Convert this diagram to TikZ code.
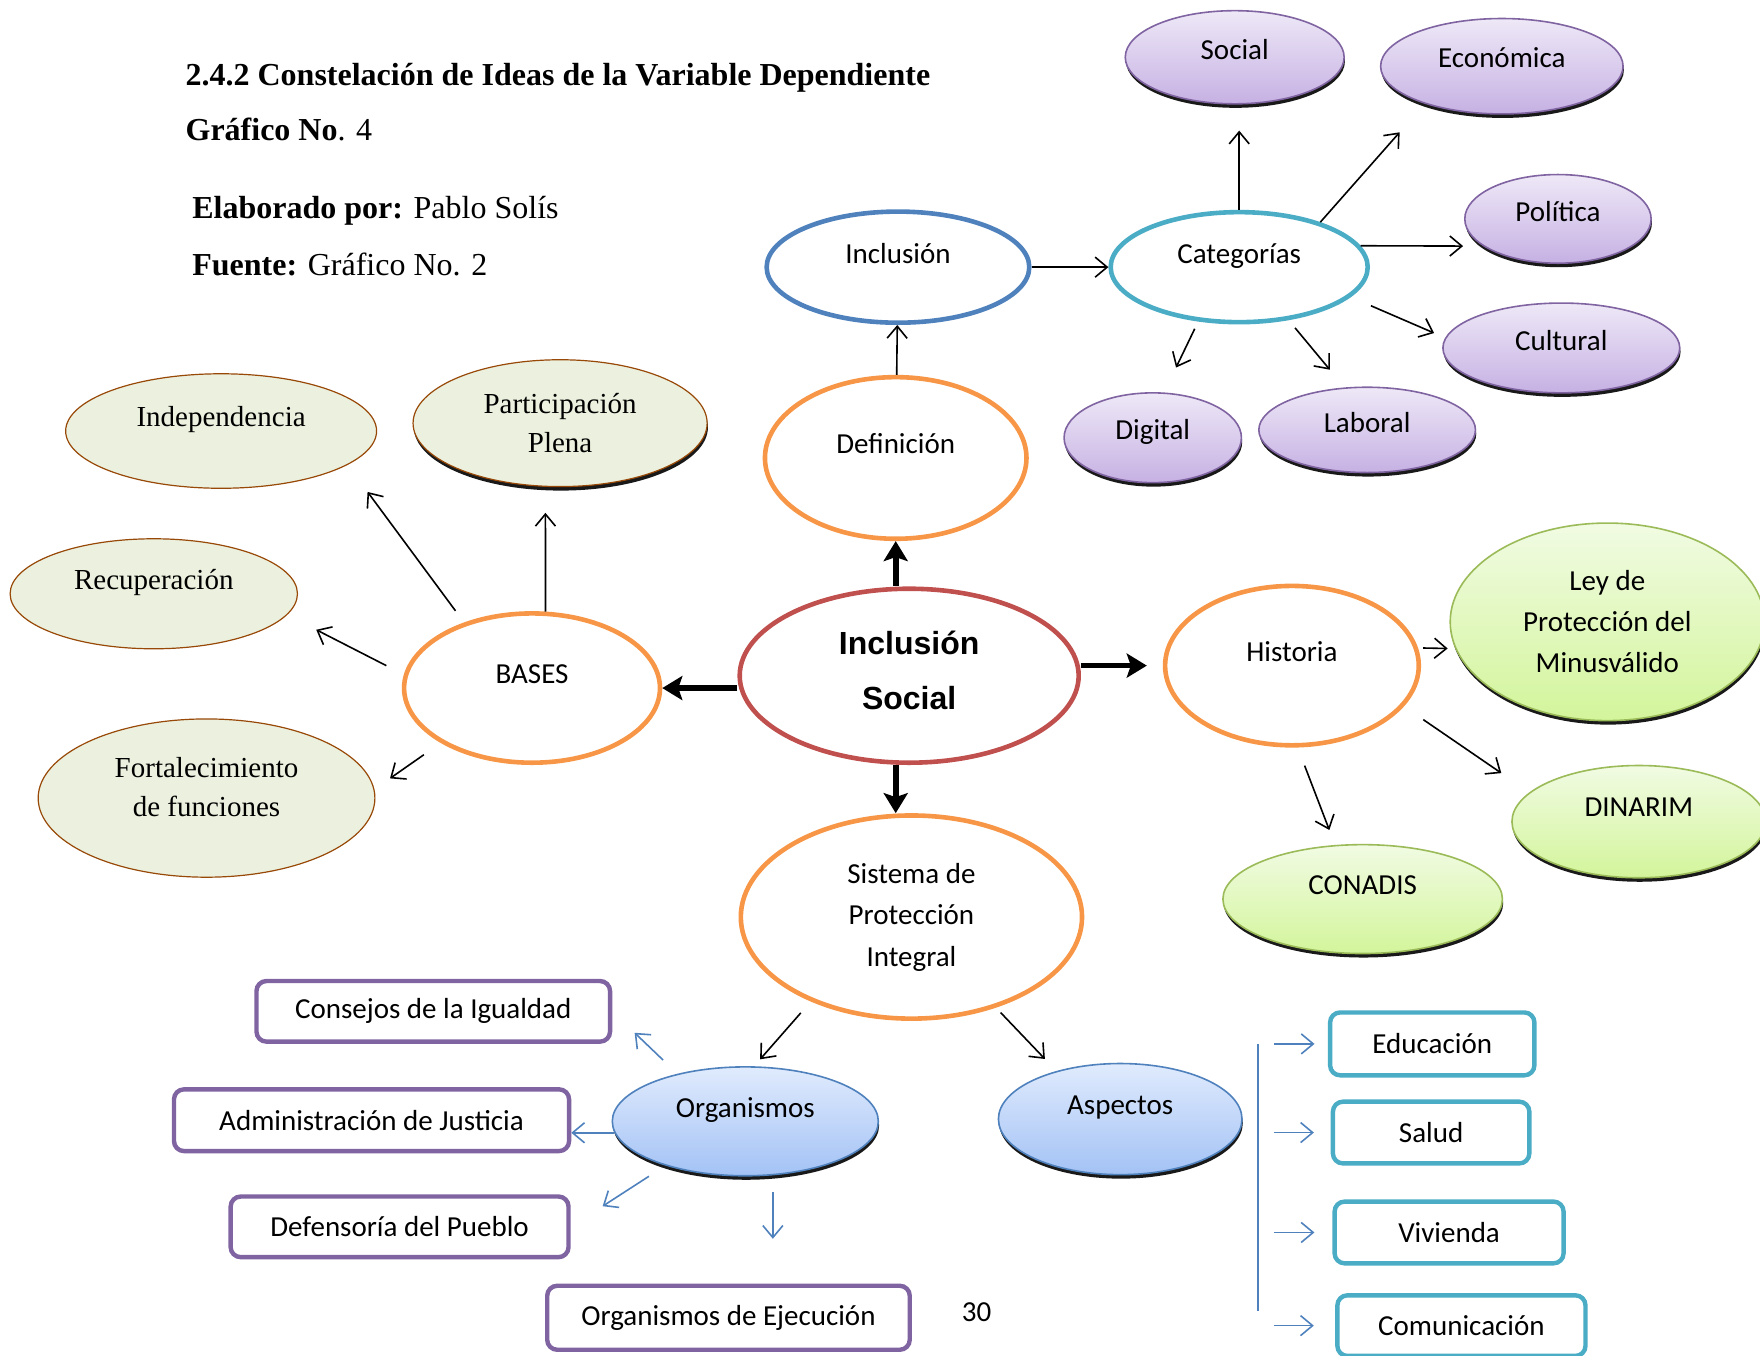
\documentclass[tikz,border=0pt]{standalone}
\usepackage{fontspec}
\setmainfont{Carlito}
\newfontfamily\timesf{Liberation Serif}
\newfontfamily\arialf{Liberation Sans}
\usetikzlibrary{shapes.geometric, arrows.meta, shadows}

\definecolor{naranja}{HTML}{F79646}
\definecolor{rojo}{HTML}{C0504D}
\definecolor{azulb}{HTML}{4F81BD}
\definecolor{cian}{HTML}{4BACC6}
\definecolor{lilab}{HTML}{8064A2}
\definecolor{lilaa}{HTML}{EEE8F7}
\definecolor{lilac}{HTML}{C6B1E3}
\definecolor{verdef}{HTML}{EBF1DE}
\definecolor{cafe}{HTML}{984807}
\definecolor{limab}{HTML}{9BBB59}
\definecolor{limaa}{HTML}{F1FBE3}
\definecolor{limac}{HTML}{D3F59B}
\definecolor{azula}{HTML}{E0EBFD}
\definecolor{azulc}{HTML}{A3C2F5}

\begin{document}
\begin{tikzpicture}[x=0.5612pt, y=-0.5612pt, font=\fontsize{14.5}{17.5}\selectfont,
  wh/.style 2 args = {minimum width=#1*0.5612pt, minimum height=#2*0.5612pt},
  sube/.style = {text height=10pt, text depth=#1}, sube/.default=14.5pt,
  texto/.style = {anchor=west, inner sep=0pt, font=\timesf\fontsize{16}{19}\selectfont},
  anillo/.style = {draw, ellipse, line width=2.3pt, inner sep=0pt},
  sombra/.style = {drop shadow={shadow xshift=0.4pt, shadow yshift=-2pt, fill=black, opacity=0.9}},
  lila/.style = {ellipse, draw=lilab, line width=0.8pt, top color=lilaa, bottom color=lilac, sombra, inner sep=0pt},
  verde/.style = {ellipse, draw=cafe, line width=0.6pt, fill=verdef, inner sep=0pt, font=\timesf\fontsize{14.5}{19.5}\selectfont},
  lima/.style = {ellipse, draw=limab, line width=0.8pt, top color=limaa, bottom color=limac, sombra, inner sep=0pt},
  azul/.style = {ellipse, draw=azulb, line width=0.8pt, top color=azula, bottom color=azulc, sombra, inner sep=0pt},
  caja/.style = {draw, fill=white, rounded corners=5pt, line width=2.2pt, inner sep=0pt},
  flecha/.style = {line width=0.8pt, -{Straight Barb[length=6pt, width=10pt]}},
  gruesa/.style = {line width=2.8pt, -{Stealth[length=10pt, width=12pt, inset=2pt]}},
  azulf/.style = {azulb, line width=0.8pt, -{Straight Barb[length=6pt, width=10pt]}}]
\useasboundingbox (0,0) rectangle (1568,1208);

\node[texto, font=\timesf\bfseries\fontsize{16}{19}\selectfont] (tit) at (165,69) {2.4.2 Constelación de Ideas de la Variable Dependiente};
\node[texto] (gra) at (165,115) {\textbf{Gráfico No}. 4};
\node[texto] (ela) at (171,188) {\textbf{Elaborado por:} Pablo Solís};
\node[texto] (fue) at (171,236) {\textbf{Fuente:} Gráfico No. 2};

\node[anillo, draw=rojo, wh={302}{155}, align=center, text depth=5.8pt, font=\arialf\bfseries\fontsize{16}{27.5}\selectfont] (cen) at (810,602) {Inclusión\\Social};
\node[anillo, draw=naranja, wh={233}{144}, sube] (def) at (798,408) {Definición};
\node[anillo, draw=azulb, wh={234}{99}, sube=13.5pt] (inc) at (800,238) {Inclusión};
\node[anillo, draw=cian, wh={229}{98}, sube=13.5pt] (cat) at (1104,238) {Categorías};
\node[anillo, draw=naranja, wh={228}{133}, sube] (bas) at (474,613) {BASES};
\node[anillo, draw=naranja, wh={226}{142}, sube] (his) at (1151,593) {Historia};
\node[anillo, draw=naranja, wh={304}{181}, align=center, font=\fontsize{14.5}{20.8}\selectfont] (sis) at (812,817) {Sistema de\\Protección\\Integral};

\node[lila, wh={195}{83}, sube=8pt] (soc) at (1100,51) {Social};
\node[lila, wh={216}{85}, sube=9pt] (eco) at (1338,59) {Económica};
\node[lila, wh={166}{79}, sube=7pt] (pol) at (1388,195) {Política};
\node[lila, wh={211}{80}, sube=7pt] (cul) at (1391,310) {Cultural};
\node[lila, wh={193}{76}, sube=7pt] (lab) at (1218,383) {Laboral};
\node[lila, wh={158}{80}, sube=8pt] (dig) at (1027,390) {Digital};

\node[verde, wh={277}{102}, sube] (ind) at (197,384) {Independencia};
\node[verde, sombra, wh={262}{113}, align=center] (par) at (499,377) {Participación\\Plena};
\node[verde, wh={256}{98}, sube=14pt] (rec) at (137,529) {Recuperación};
\node[verde, wh={300}{141}, align=center, text depth=10.8pt] (fort) at (184,711) {Fortalecimiento\\de funciones};

\node[lima, wh={280}{176}, align=center, font=\fontsize{14.5}{20.5}\selectfont] (ley) at (1432,554) {Ley de\\Protección del\\Minusválido};
\node[lima, wh={226}{100}, sube=15pt] (din) at (1460,732) {DINARIM};
\node[lima, wh={249}{97}, sube] (con) at (1214,801) {CONADIS};

\node[azul, wh={237}{97}, sube=13.5pt] (org) at (664,999) {Organismos};
\node[azul, wh={217}{99}, sube=15pt] (asp) at (998,997) {Aspectos};

\node[caja, draw=lilab, wh={315}{54}] (cons) at (386,901) {Consejos de la Igualdad};
\node[caja, draw=lilab, wh={352}{55}] (adm) at (331,998) {Administración de Justicia};
\node[caja, draw=lilab, wh={301}{54}] (dfp) at (356,1093) {Defensoría del Pueblo};
\node[caja, draw=lilab, wh={323}{57}] (eje) at (649,1174) {Organismos de Ejecución};

\node[caja, draw=cian, wh={182}{56}] (edu) at (1276,930) {Educación};
\node[caja, draw=cian, wh={175}{55}] (sal) at (1275,1009) {Salud};
\node[caja, draw=cian, wh={204}{55}] (viv) at (1291,1098) {Vivienda};
\node[caja, draw=cian, wh={221}{54}] (com) at (1302,1181) {Comunicación};

\node (pag) at (870,1169) {30};

\draw[flecha] (def) -- (inc);
\draw[gruesa] (def.south |- cen.north) -- (def.south);
\draw[gruesa] (cen.west |- bas.east) -- (bas.east);
\draw[gruesa, shorten >=8pt] (his.west -| cen.east) -- (his.west);
\draw[gruesa] (def.south |- cen.south) -- (def.south |- sis.north);

\draw[flecha] (inc) -- (cat);
\draw[flecha, shorten >=13pt] (cat.north) -- (cat.north |- soc.south);
\draw[flecha, shorten >=19pt] (cat.29) -- (eco.206);
\draw[flecha, shorten >=10pt] (cat.10) -- (pol.200);
\draw[flecha, shorten <=11pt, shorten >=6pt] (cat.-15) -- (cul.175);
\draw[flecha, shorten <=5pt, shorten >=11.5pt] (cat.-47) -- (lab.118);
\draw[flecha, shorten <=4pt, shorten >=13.8pt] (cat.233) -- (dig.76);

\draw[flecha, shorten >=13pt] (bas.80) -- (par.257);
\draw[flecha, shorten <=7.2pt, shorten >=16.8pt] (bas.136) -- (ind.-15);
\draw[flecha, shorten <=9.8pt, shorten >=16.3pt] (bas.174) -- (rec.-9);
\draw[flecha, shorten <=10.3pt, shorten >=9.5pt] (bas.211) -- (fort.3);

\draw[flecha, shorten <=2.5pt, shorten >=3.8pt] (his.8) -- (ley.190);
\draw[flecha, shorten <=11.7pt, shorten >=17pt] (his.-20) -- (din.165);
\draw[flecha, shorten <=9.7pt, shorten >=8pt] (his.274) -- (con.117);

\draw[flecha, shorten <=7.6pt, shorten >=4.6pt] (sis.220) -- (org.81);
\draw[flecha, shorten <=3.4pt, shorten >=8.3pt] (sis.-47) -- (asp.143);

\draw[azulf, shorten <=9.9pt, shorten >=15.5pt] (org.145) -- (cons.east);
\draw[azulf] (org.185) -- (org.185 -| adm.east);
\draw[azulf, shorten <=9.8pt, shorten >=19pt] (org.209) -- (dfp.east);
\draw[azulf, shorten <=8.4pt, shorten >=22.4pt] (org.297) -- (org.297 |- eje.north);

\coordinate (lt) at (1121,930);
\coordinate (lb) at (1121,1168);
\draw[azulb, line width=0.8pt] (lt) -- (lb);
\draw[azulf, shorten <=7.9pt, shorten >=6.7pt] (lt |- edu.west) -- (edu.west);
\draw[azulf, shorten <=7.9pt, shorten >=8.4pt] (lt |- sal.west) -- (sal.west);
\draw[azulf, shorten <=7.9pt, shorten >=9pt] (lt |- viv.west) -- (viv.west);
\draw[azulf, shorten <=7.9pt, shorten >=10.7pt] (lt |- com.west) -- (com.west);
\end{tikzpicture}
\end{document}
